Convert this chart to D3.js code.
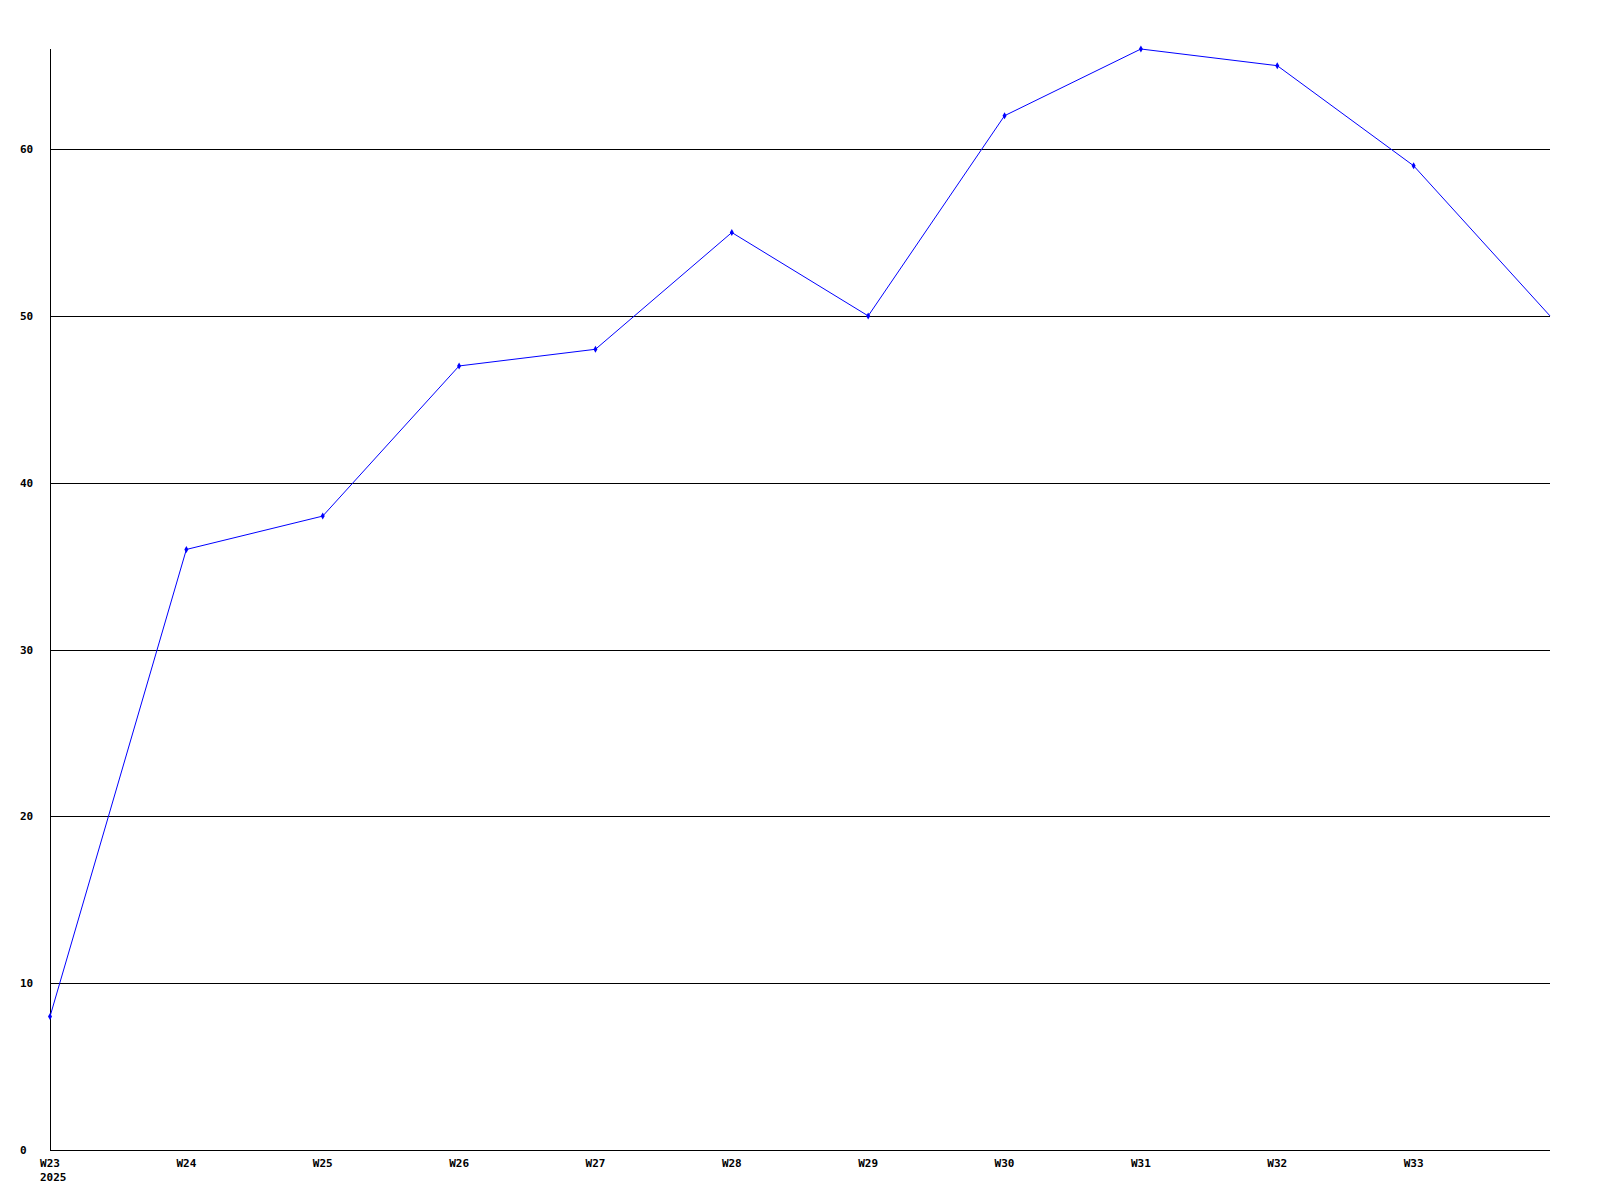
<!DOCTYPE html>
<html><head><meta charset="utf-8">
<script src="https://cdn.jsdelivr.net/npm/d3@7"></script>
<style>body{margin:0;background:#fff}svg text{font-family:"DejaVu Sans Mono",monospace;font-weight:bold;font-size:11px}</style>
</head><body><svg id="c" width="1600" height="1200"></svg>
<script>
const weeks = ["W23","W24","W25","W26","W27","W28","W29","W30","W31","W32","W33","W34"];
const weekLabels = ["W23","W24","W25","W26","W27","W28","W29","W30","W31","W32","W33",""];
const values = [8,36,38,47,48,55,50,62,66,65,59,50];
const yTicks = [0,10,20,30,40,50,60];
const yearLabel = "2025";

const svg = d3.select("#c");
const x = d3.scalePoint().domain(weeks).range([50,1550]);
const y = d3.scaleLinear().domain([0,66]).range([1150,49]);

// gridlines
svg.append("g").selectAll("line").data(yTicks.filter(d=>d>0)).join("line")
  .attr("x1",50).attr("x2",1550).attr("y1",d=>Math.round(y(d))+0.5).attr("y2",d=>Math.round(y(d))+0.5)
  .attr("stroke","#000").attr("stroke-width",1);
// axes
svg.append("line").attr("x1",50.5).attr("x2",50.5).attr("y1",49).attr("y2",1150).attr("stroke","#000");
svg.append("line").attr("x1",50).attr("x2",1550).attr("y1",1150.5).attr("y2",1150.5).attr("stroke","#000");
// y labels
svg.append("g").selectAll("text").data(yTicks).join("text")
  .attr("x",20).attr("y",d=>y(d)+4).text(d=>d);
// x labels
svg.append("g").selectAll("text").data(weeks).join("text")
  .attr("x",d=>x(d)).attr("y",1167).attr("text-anchor","middle")
  .text((d,i)=>weekLabels[i]);
svg.append("text").attr("x",x(weeks[0])-10).attr("y",1181).attr("text-anchor","start").text(yearLabel);
// line
const data = weeks.map((w,i)=>({w,v:values[i]}));
svg.append("path").datum(data)
  .attr("d",d3.line().x(d=>x(d.w)).y(d=>y(d.v)))
  .attr("fill","none").attr("stroke","#0000ff").attr("stroke-width",1);
svg.append("g").selectAll("path").data(data.slice(0,-1)).join("path")
  .attr("transform",d=>`translate(${x(d.w)},${y(d.v)})`)
  .attr("d",d3.symbol(d3.symbolDiamond,14))
  .attr("fill","#0000ff");
</script></body></html>
